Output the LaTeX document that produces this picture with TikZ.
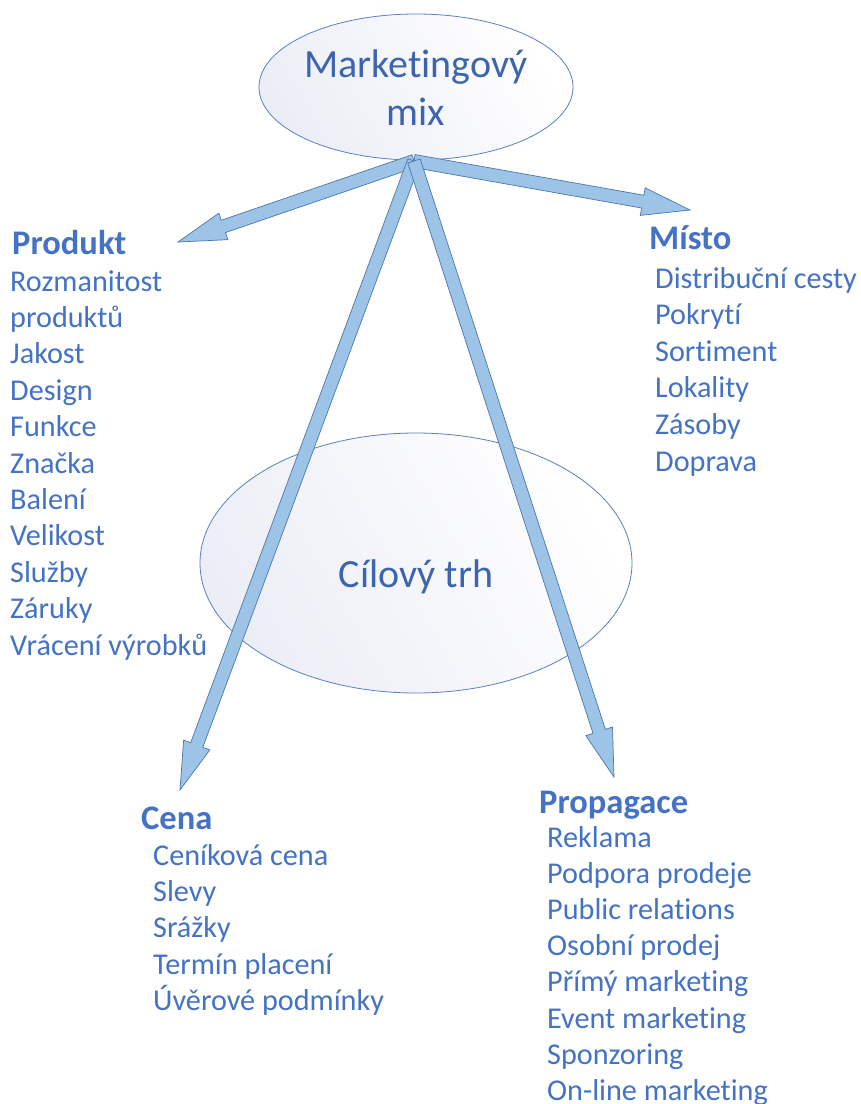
\documentclass[tikz,border=0pt]{standalone}
\usepackage{fontspec}
\setmainfont{Carlito}[RawFeature={-liga;-clig;-dlig;-calt}]
\usetikzlibrary{calc}
\definecolor{txtblue}{HTML}{4472C4}
\definecolor{ovalblue}{HTML}{3D64AE}
\definecolor{ovalline}{HTML}{5B7FC4}
\definecolor{arrowfill}{HTML}{9DC3E6}
\definecolor{arrowline}{HTML}{4A76B0}
\definecolor{ovalshade}{HTML}{ECEEF6}
\tikzset{
  oval/.style={draw=ovalline, line width=0.8pt, left color=ovalshade, right color=white, shading angle=120},
  ovaltext/.style={text=ovalblue, font=\fontsize{40}{48}\selectfont, align=center},
  heading/.style={text=txtblue, font=\bfseries\fontsize{34.5}{36}\selectfont, anchor=base west, inner sep=0pt},
  item/.style={text=txtblue, font=\fontsize{30.2}{36}\selectfont, anchor=base west, inner sep=0pt},
  barrow/.style={fill=arrowfill, draw=arrowline, line width=0.7pt, line join=miter},
}
% block arrow from #1 to #2
\newcommand\blockarrow[2]{%
  \coordinate (hb) at ($(#2)!48pt!(#1)$);
  \draw[barrow] ($(#1)!6.5pt!90:(#2)$) -- ($(hb)!6.5pt!90:(#2)$) -- ($(hb)!14pt!90:(#2)$)
    -- (#2) -- ($(hb)!14pt!-90:(#2)$) -- ($(hb)!6.5pt!-90:(#2)$) -- ($(#1)!6.5pt!-90:(#2)$) -- cycle;
}
\begin{document}
\begin{tikzpicture}[x=1pt,y=-1pt]
\useasboundingbox[fill=white] (0,0) rectangle (861,1104);

% ovals
\path[oval] (416,87) ellipse [x radius=157, y radius=73];
\node[ovaltext] (mix) at (416,88) {Marketingový\\mix};
\path[oval] (416,563) ellipse [x radius=216, y radius=130];
\node[ovaltext] (trh) at (416,577) {Cílový trh};

% arrows
\coordinate (o) at (414,161);
\coordinate (tprod) at (178,242);
\coordinate (tmisto) at (690,210);
\coordinate (tcena) at (180,790);
\coordinate (tprop) at (614,777);
\blockarrow{o}{tprod}
\blockarrow{o}{tmisto}
\blockarrow{o}{tcena}
\blockarrow{o}{tprop}

% Produkt
\node[heading] (hprod) at (12,254) {Produkt};
\foreach \t [count=\i from 0] in {Rozmanitost, produktů, Jakost, Design, Funkce, Značka, Balení, Velikost, Služby, Záruky, Vrácení výrobků}
  \node[item] (prod\i) at (10,291+36.4*\i) {\t};

% Místo
\node[heading] (hmisto) at (649,249) {Místo};
\foreach \t [count=\i from 0] in {Distribuční cesty, Pokrytí, Sortiment, Lokality, Zásoby, Doprava}
  \node[item] (misto\i) at (655,288+36.6*\i) {\t};

% Cena
\node[heading] (hcena) at (141,829) {Cena};
\foreach \t [count=\i from 0] in {Ceníková cena, Slevy, Srážky, Termín placení, Úvěrové podmínky}
  \node[item] (cena\i) at (153,865+36.4*\i) {\t};

% Propagace
\node[heading] (hprop) at (539,813) {Propagace};
\foreach \t [count=\i from 0] in {Reklama, Podpora prodeje, Public relations, Osobní prodej, Přímý marketing, Event marketing, Sponzoring, On-line marketing}
  \node[item] (prop\i) at (547,847+36.2*\i) {\t};
\end{tikzpicture}
\end{document}
